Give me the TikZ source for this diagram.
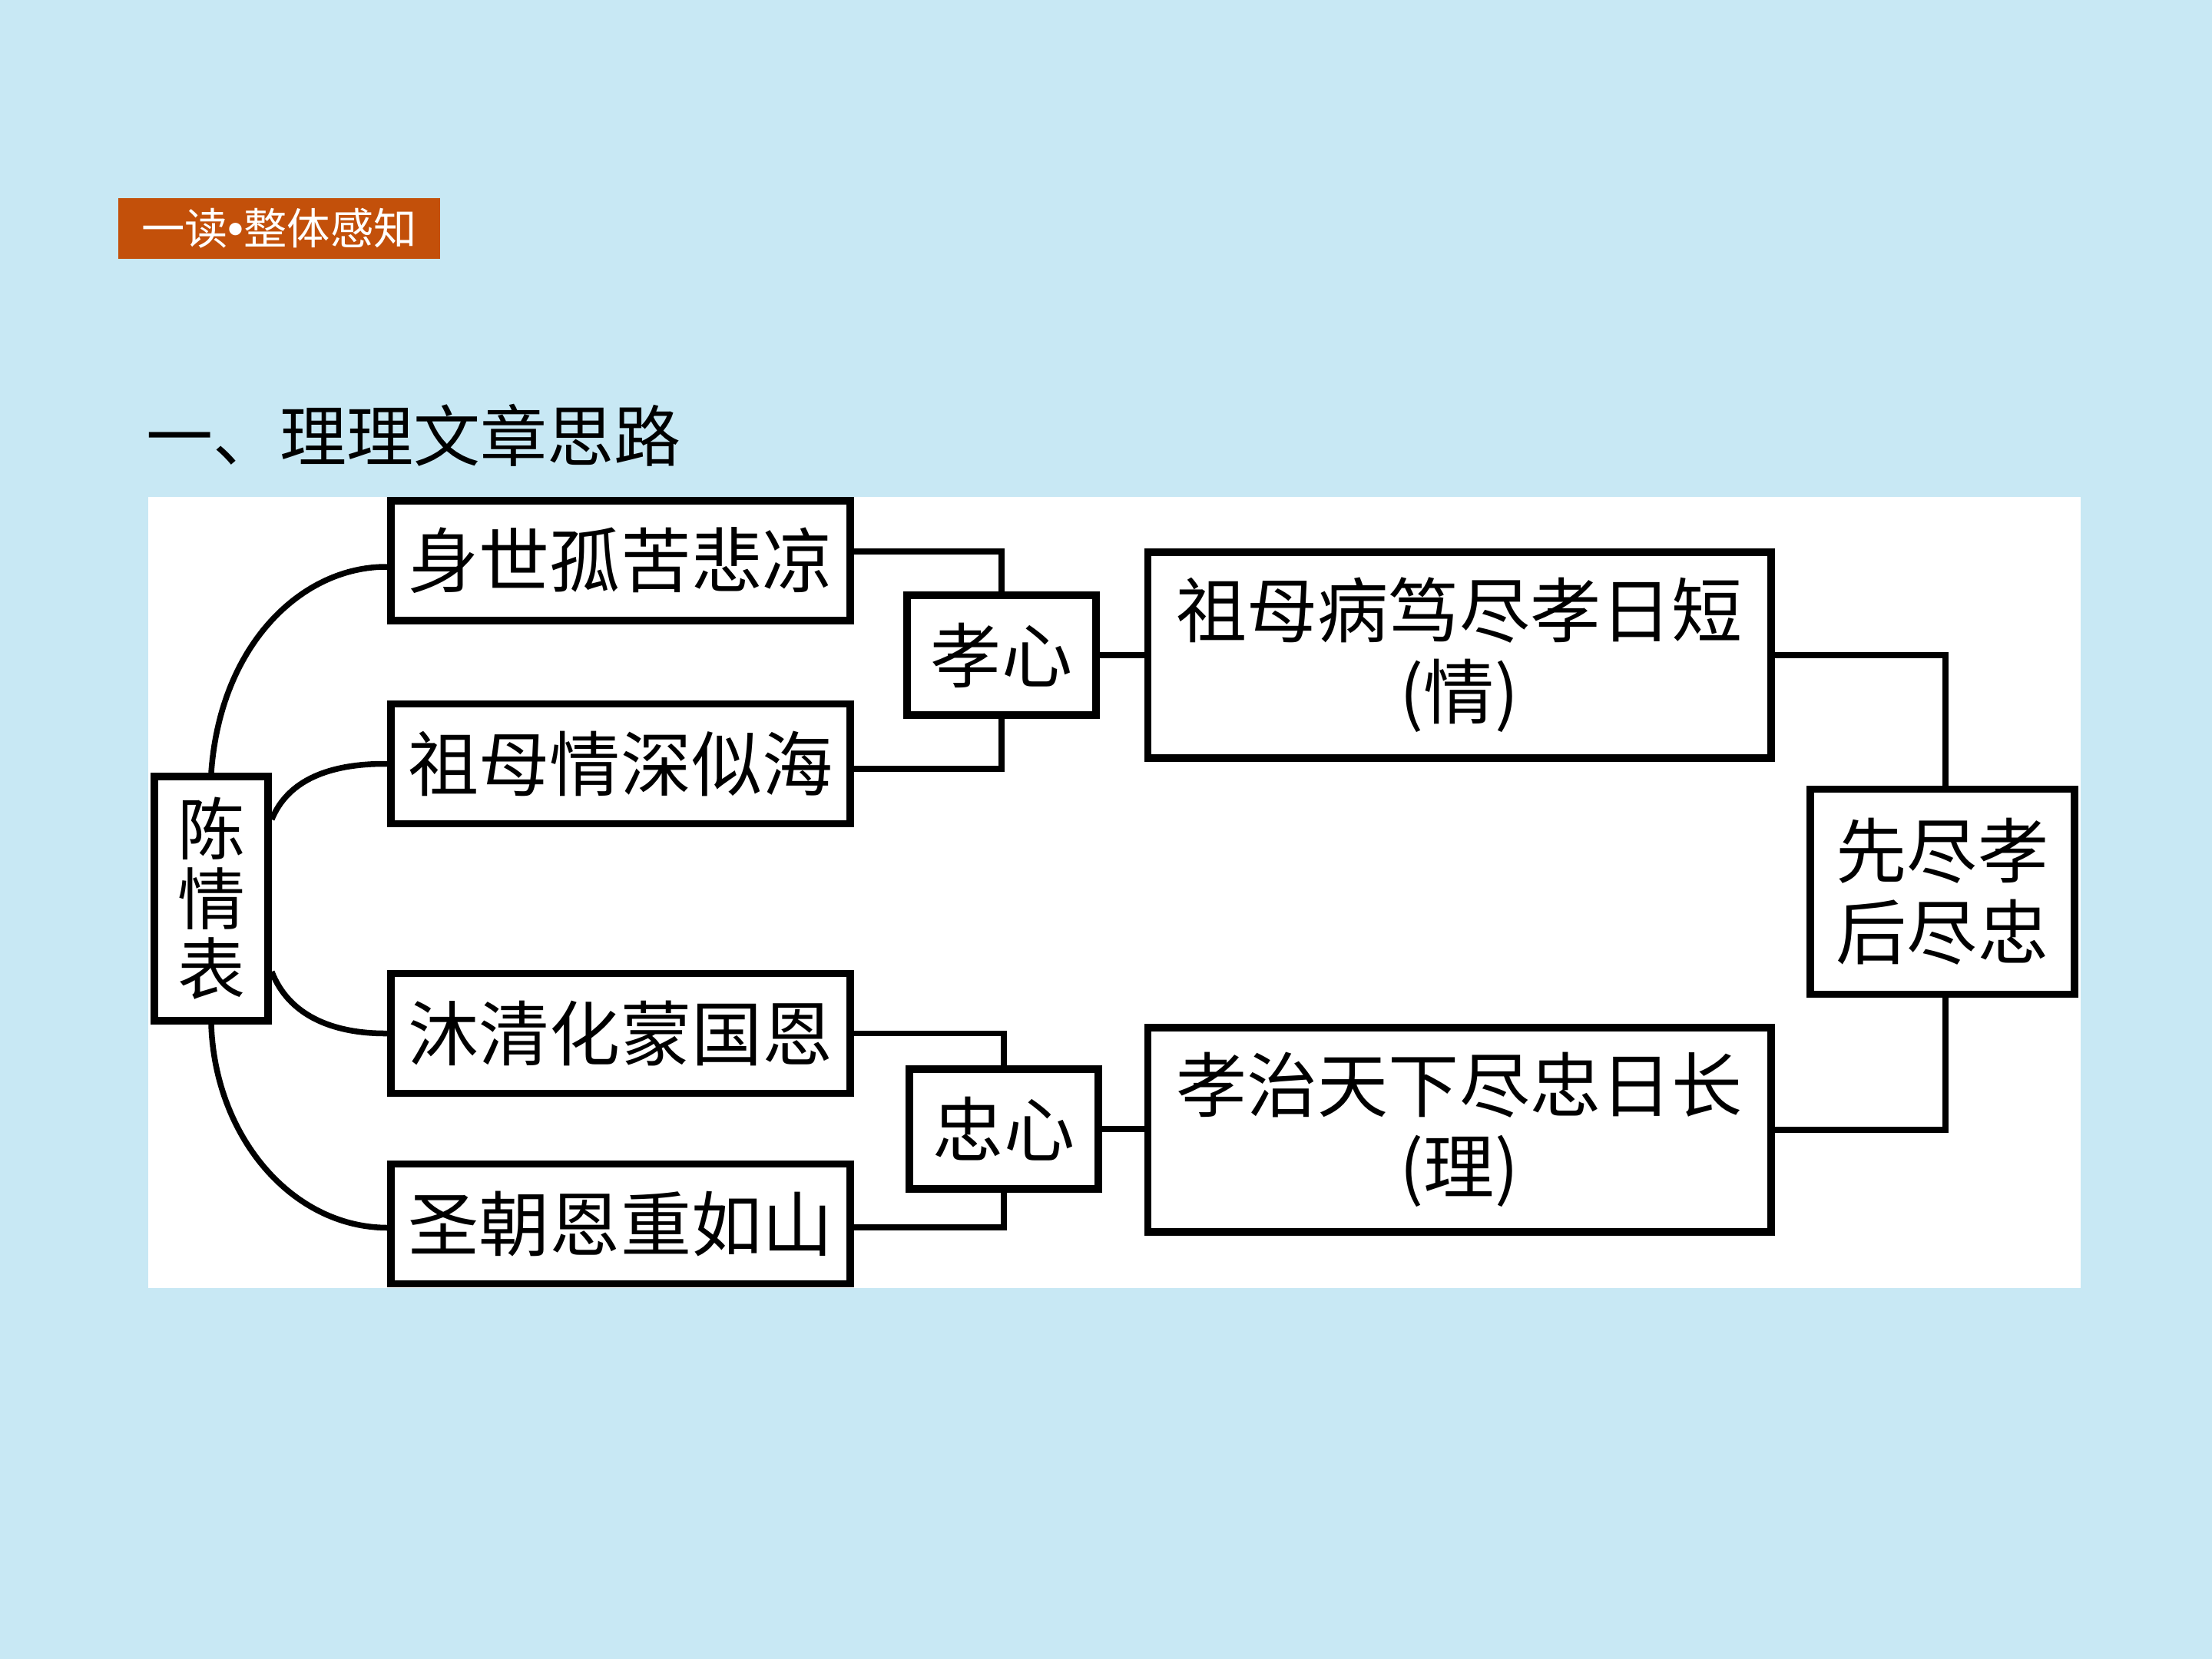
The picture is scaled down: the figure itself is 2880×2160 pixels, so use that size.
\documentclass[tikz,border=0pt]{standalone}
\usepackage{fontspec}
\newfontfamily\cjk{Noto Sans CJK SC}
\newfontfamily\lat{Liberation Sans}
\definecolor{bgblue}{RGB}{200,232,244}
\definecolor{badge}{RGB}{195,80,10}
\begin{document}
\begin{tikzpicture}[x=0.01cm,y=-0.01cm,
  box/.style={draw=black, line width=0.095cm, fill=white, inner sep=0pt, align=center,
    font=\cjk\fontsize{26.2}{30.2}\selectfont},
  conn/.style={draw=black, line width=0.075cm}]
\useasboundingbox (0,0) rectangle (2880,2160);
\fill[bgblue] (0,0) rectangle (2880,2160);
\fill[white] (193,647) rectangle (2709,1677);

% badge and heading
\node[fill=badge, text=white, inner sep=0pt, minimum width=4.19cm, minimum height=0.79cm,
  font=\cjk\fontsize{16}{16}\selectfont] (badge) at (363.5,297.5) {一读{\lat\fontsize{17}{17}\selectfont •}整体感知};
\node[anchor=west, inner sep=0pt, font=\cjk\fontsize{24.75}{26}\selectfont] (head) at (190,567) {一、理理文章思路};

% boxes
\node[box, minimum width=1.48cm, minimum height=3.18cm, font=\cjk\fontsize{25}{25.9}\selectfont] (chen) at (275,1170) {陈\\情\\表};
\node[box, minimum width=5.98cm, minimum height=1.56cm] (b1) at (808,730) {身世孤苦悲凉};
\node[box, minimum width=5.98cm, minimum height=1.56cm] (b2) at (808,994.5) {祖母情深似海};
\node[box, minimum width=5.98cm, minimum height=1.56cm] (b3) at (808,1345.5) {沐清化蒙国恩};
\node[box, minimum width=5.98cm, minimum height=1.56cm] (b4) at (808,1593.5) {圣朝恩重如山};
\node[box, minimum width=2.46cm, minimum height=1.56cm] (xiao) at (1304,853) {孝心};
\node[box, minimum width=2.46cm, minimum height=1.56cm] (zhong) at (1307,1470) {忠心};
\node[box, minimum width=8.11cm, minimum height=2.68cm] (big1) at (1900,853) {祖母病笃尽孝日短\\(情)};
\node[box, minimum width=8.11cm, minimum height=2.66cm] (big2) at (1900,1471) {孝治天下尽忠日长\\(理)};
\node[box, minimum width=3.44cm, minimum height=2.67cm] (xian) at (2529,1161) {先尽孝\\后尽忠};

% connectors
\draw[conn] ([yshift=0.12cm]b1.east) -| (xiao.north);
\draw[conn] ([yshift=-0.065cm]b2.east) -| (xiao.south);
\draw[conn] (b3.east) -| (zhong.north);
\draw[conn] ([yshift=-0.045cm]b4.east) -| (zhong.south);
\draw[conn] (xiao.east) -- (xiao.east -| big1.west);
\draw[conn] (zhong.east) -- (zhong.east -| big2.west);
\draw[conn] (big1.east) -| ([xshift=0.04cm]xian.north);
\draw[conn] (big2.east) -| ([xshift=0.04cm]xian.south);

% curves from chen
\draw[conn] (chen.north) .. controls (287,837) and (395,737) .. ([yshift=-0.08cm]b1.west);
\draw[conn] ([yshift=1.03cm]chen.east) .. controls (375,1015) and (430,994) .. (b2.west);
\draw[conn] ([yshift=-0.95cm]chen.east) .. controls (375,1320) and (430,1346) .. (b3.west);
\draw[conn] (chen.south) .. controls (280,1480) and (380,1598) .. ([yshift=-0.05cm]b4.west);
\end{tikzpicture}
\end{document}
